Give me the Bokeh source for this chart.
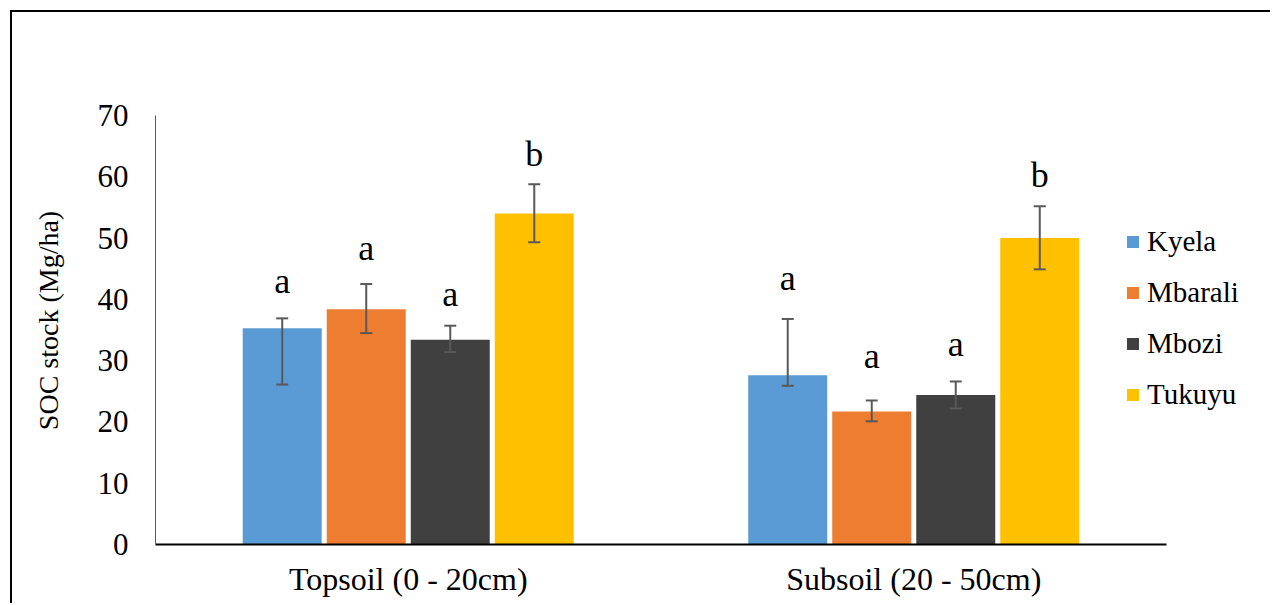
from bokeh.plotting import figure
from bokeh.models import (ColumnDataSource, Whisker, TeeHead, Legend, LegendItem,
                          Range1d, FixedTicker)
from bokeh.transform import dodge
from bokeh.core.properties import value
from bokeh.embed import file_html
from bokeh.resources import INLINE

groups = ["Topsoil (0 - 20cm)", "Subsoil (20 - 50cm)"]
sites = ["Kyela", "Mbarali", "Mbozi", "Tukuyu"]
colors = ["#5B9BD5", "#ED7D31", "#404040", "#FFC000"]

kyela = [35.3, 27.6]
kyela_upper = [36.9, 36.8]
kyela_lower = [26.1, 25.9]
mbarali = [38.4, 21.7]
mbarali_upper = [42.5, 23.5]
mbarali_lower = [34.5, 20.1]
mbozi = [33.4, 24.4]
mbozi_upper = [35.7, 26.6]
mbozi_lower = [31.4, 22.2]
tukuyu = [54.0, 50.0]
tukuyu_upper = [58.8, 55.2]
tukuyu_lower = [49.3, 44.9]

kyela_letters = ["a", "a"]
mbarali_letters = ["a", "a"]
mbozi_letters = ["a", "a"]
tukuyu_letters = ["b", "b"]
kyela_letter_y = [41.1, 41.6]
mbarali_letter_y = [46.5, 28.8]
mbozi_letter_y = [38.9, 30.7]
tukuyu_letter_y = [61.8, 58.3]

y_ticks = [0, 10, 20, 30, 40, 50, 60, 70]

series = [
    (kyela, kyela_upper, kyela_lower, kyela_letters, kyela_letter_y),
    (mbarali, mbarali_upper, mbarali_lower, mbarali_letters, mbarali_letter_y),
    (mbozi, mbozi_upper, mbozi_lower, mbozi_letters, mbozi_letter_y),
    (tukuyu, tukuyu_upper, tukuyu_lower, tukuyu_letters, tukuyu_letter_y),
]

FONT = "Liberation Serif"

centers = [i + 0.5 for i in range(len(groups))]
n_cat = len(groups)

p = figure(x_range=Range1d(0, n_cat * 1.10485), y_range=Range1d(0, 73.1),
           width=1260, height=593, output_backend="svg", toolbar_location=None,
           min_border_left=143, min_border_right=0, min_border_top=84, min_border_bottom=61,
           styles={"border-left": "2px solid black", "border-top": "2px solid black",
                   "margin-left": "10px", "margin-top": "10px"})
p.outline_line_color = None
p.xgrid.grid_line_color = None
p.ygrid.grid_line_color = None

pitch = 0.1662
bw = 0.1563
offsets = [-1.5 * pitch, -0.5 * pitch, 0.5 * pitch, 1.5 * pitch]

items = []
for i, (vals, up, lo, let, ly) in enumerate(series):
    src = ColumnDataSource(dict(g=centers, v=vals, up=up, lo=lo, let=let, ly=ly))
    r = p.vbar(x=dodge("g", offsets[i]), top="v", width=bw, source=src,
               fill_color=colors[i], line_color=None)
    items.append(LegendItem(label=sites[i], renderers=[r]))
    w = Whisker(base=dodge("g", offsets[i]), upper="up", lower="lo", source=src,
                line_color="#595959", line_width=2, level="overlay",
                upper_head=TeeHead(size=12, line_color="#595959", line_width=2),
                lower_head=TeeHead(size=12, line_color="#595959", line_width=2))
    p.add_layout(w)
    p.text(x=dodge("g", offsets[i]), y="ly", text="let", source=src,
           text_align="center", text_baseline="alphabetic", text_font=value(FONT),
           text_font_size="36px", text_color="black", y_offset=-12)

# axes
p.yaxis.ticker = FixedTicker(ticks=y_ticks)
p.yaxis.bounds = (0, 70)
p.yaxis.major_tick_line_color = None
p.yaxis.minor_tick_line_color = None
p.yaxis.axis_line_color = "#595959"
p.yaxis.axis_line_width = 1
p.yaxis.major_label_standoff = 21
p.yaxis.major_label_text_font = FONT
p.yaxis.major_label_text_font_size = "31px"
p.yaxis.major_label_text_color = "black"
p.yaxis.axis_label = "SOC stock (Mg/ha)"
p.yaxis.axis_label_text_font = FONT
p.yaxis.axis_label_text_font_style = "normal"
p.yaxis.axis_label_text_font_size = "28px"
p.yaxis.axis_label_text_color = "black"
p.yaxis.axis_label_standoff = 31

p.xaxis.ticker = FixedTicker(ticks=centers)
p.xaxis.major_label_overrides = {c: g for c, g in zip(centers, groups)}
p.xaxis.bounds = (0, n_cat)
p.xaxis.major_tick_line_color = None
p.xaxis.minor_tick_line_color = None
p.xaxis.axis_line_color = "black"
p.xaxis.axis_line_width = 2
p.xaxis.major_label_standoff = 10
p.xaxis.major_label_text_font = FONT
p.xaxis.major_label_text_font_size = "32px"
p.xaxis.major_label_text_color = "black"

legend = Legend(items=items, location=(970, 132), orientation="vertical",
                glyph_width=15, glyph_height=15, label_standoff=7, spacing=15,
                label_height=36, padding=0, margin=0, border_line_color=None,
                background_fill_alpha=0,
                label_text_font=FONT, label_text_font_size="29px", label_text_color="black")
p.add_layout(legend)

open("out.html", "w").write(file_html(p, INLINE))
